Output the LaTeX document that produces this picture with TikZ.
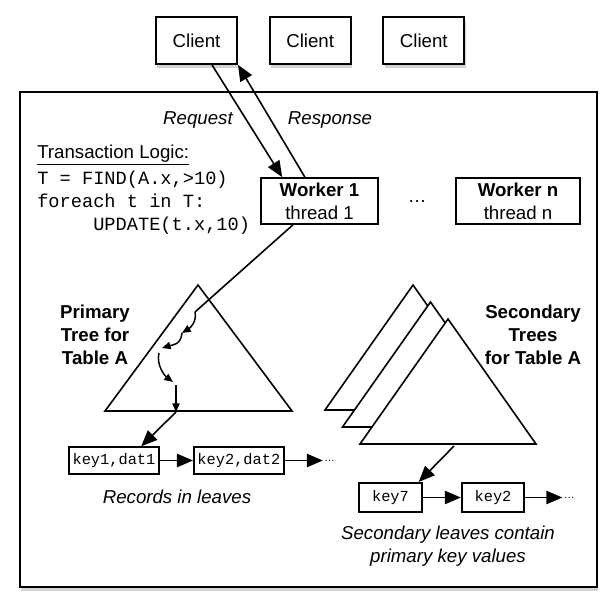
\documentclass[tikz,border=0pt]{standalone}
\usepackage{fontspec}
\setmainfont{Liberation Sans}
\setmonofont{Liberation Mono}
\usetikzlibrary{arrows.meta,positioning,shadows,calc}
\tikzset{
  shd/.style={drop shadow={shadow xshift=1pt,shadow yshift=-3pt,opacity=0.35}},
  cl/.style={rectangle,draw,line width=1.5pt,fill=white,shd,minimum width=60.75pt,minimum height=35pt,inner sep=0pt,font=\fontsize{14}{17}\selectfont},
  wk/.style={rectangle,draw,line width=1.4pt,fill=white,minimum width=88pt,minimum height=34.5pt,inner sep=0pt,align=center,font=\fontsize{14}{17}\selectfont},
  ky/.style={rectangle,draw,line width=1.4pt,fill=white,minimum height=20pt,inner sep=2pt,font=\ttfamily\fontsize{11.5}{13}\selectfont},
  arr/.style={-{Triangle[length=12pt,width=10pt]},line width=1.2pt},
  sarr/.style={-{Triangle[length=6.5pt,width=5.5pt]},line width=1.1pt},
  tri/.style={draw,line width=1.2pt,fill=white,line join=miter},
  lbl/.style={font=\fontsize{14}{17.25}\selectfont,align=center},
  blbl/.style={font=\fontsize{14}{17.25}\selectfont\bfseries,align=center},
  it/.style={font=\fontsize{14}{17.25}\selectfont\itshape,align=center},
  dts/.style={font=\fontsize{8}{8}\selectfont,inner sep=1pt},
}

\begin{document}
\begin{tikzpicture}[x=0.75pt,y=-0.75pt,node distance=23pt]
  \useasboundingbox (0,0) rectangle (615,612);
  \draw[line width=1.8pt,fill=white,shd] (20,92) rectangle (597,587);
  % clients
  \node[cl] (c1) at (196.5,40.5) {Client};
  \node[cl,right=of c1] (c2) {Client};
  \node[cl,right=of c2] (c3) {Client};
  % workers
  \node[wk] (w1) at (319.5,201) {\textbf{Worker 1}\\thread 1};
  \node[wk,minimum width=93pt,right=57pt of w1] (wn) {\textbf{Worker n}\\thread n};
  \node[lbl] (wdots) at ($(w1.east)!0.5!(wn.west)$) {\ldots};
  \draw[arr] ([xshift=11.6pt]c1.south) -- ([xshift=-28pt]w1.north);
  \draw[arr] ([xshift=-11pt]w1.north) -- (c1.south east);
  \node[it] (req) at (198,120) {Request};
  \node[it] (resp) at (330,120) {Response};
  % transaction logic
  \node[lbl,anchor=west,inner sep=0pt] (tl) at (37,155) {\underline{Transaction Logic:}};
  \node[anchor=north west,align=left,inner sep=0pt,font=\ttfamily\fontsize{14}{17.25}\selectfont] (code) at (37,170.5)
    {T = FIND(A.x,>10)\\foreach t in T:\\\phantom{xxxxx}UPDATE(t.x,10)};
  % primary tree
  \draw[tri] (198,285) -- (292,411) -- (105,411) -- cycle;
  \node[blbl] (ptl) at (95,335) {Primary\\Tree for\\Table A};
  \coordinate (p0) at (195,312);
  \coordinate (p1) at (182,333);
  \coordinate (p2) at (162,348);
  \coordinate (p3) at (159,353);
  \coordinate (p4) at (173,382);
  \coordinate (p5) at (176,385);
  \coordinate (p6) at (176,412);
  \draw[line width=1.2pt] ([xshift=-20pt]w1.south) -- (p0);
  \draw[sarr] (p0) .. controls (197,322) and (190,328) .. (p1);
  \draw[sarr] (p1) .. controls (181,345) and (172,345) .. (p2);
  \draw[sarr] (p3) .. controls (156,365) and (165,376) .. (p4);
  \draw[sarr] (p5) -- (p6);
  % secondary trees
  \foreach \i in {0,1,2}
    \draw[tri,shift={(\i*17.5,\i*17)}] (325,410) -- (413,285) -- (501,410) -- cycle;
  \node[blbl] (stl) at (533,335) {Secondary\\Trees\\for Table A};
  \coordinate (sb) at (454,446);
  % leaves
  \node[ky,minimum width=67.5pt] (k1) at (114,460.5) {key1,dat1};
  \node[ky,minimum width=67.5pt,right=24.75pt of k1] (k2) {key2,dat2};
  \node[dts,right=28.5pt of k2] (d1) {\ldots};
  \draw[arr] (p6) -- ([xshift=-14pt]k1.north east);
  \draw[arr] (k1) -- (k2);
  \draw[arr] (k2) -- (d1);
  \node[it] (rl) at (177,497) {Records in leaves};
  \node[ky,minimum width=47pt,minimum height=22pt] (k7) at (390.5,497.5) {key7};
  \node[ky,minimum width=47pt,minimum height=22pt,right=28.5pt of k7] (k8) {key2};
  \node[dts,right=27.75pt of k8] (d2) {\ldots};
  \draw[arr] (sb) -- ([xshift=-3pt]k7.north east);
  \draw[arr] (k7) -- (k8);
  \draw[arr] (k8) -- (d2);
  \node[it] (sl) at (448,546.5) {Secondary leaves contain\\primary key values};
\end{tikzpicture}
\end{document}
